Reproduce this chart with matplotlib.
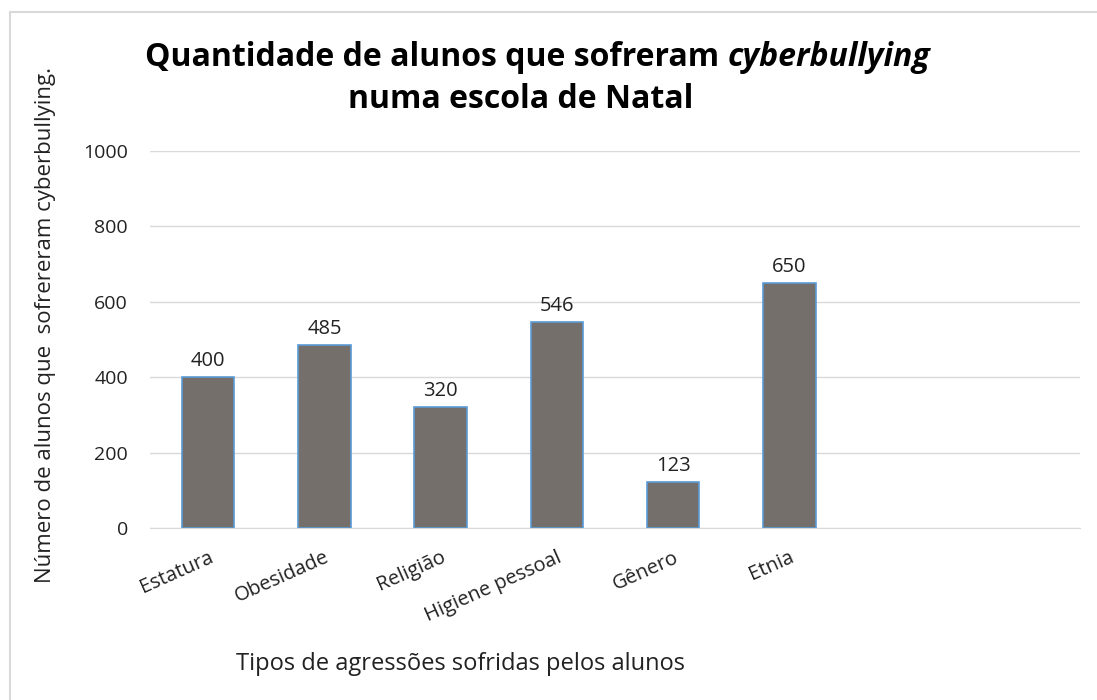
import matplotlib
matplotlib.use("Agg")
from matplotlib import pyplot as plt
from matplotlib.lines import Line2D

plt.rcParams['font.family'] = ['Open Sans', 'DejaVu Sans']

categorias = ["Estatura", "Obesidade", "Religião", "Higiene pessoal", "Gênero", "Etnia", "", ""]
valores = [400, 485, 320, 546, 123, 650, None, None]
yticks = [0, 200, 400, 600, 800, 1000]

titulo1 = "Quantidade de alunos que sofreram "
titulo_it = "cyberbullying"
titulo2 = "numa escola de Natal"
ylabel = "Número de alunos que  sofrereram cyberbullying."
xlabel = "Tipos de agressões sofridas pelos alunos"

fig = plt.figure(figsize=(10.97, 7.0), dpi=100)
W, H = 1097, 700
ax = fig.add_axes([150 / W, 1 - 528 / H, 930 / W, (528 - 151) / H])

pos = list(range(len(categorias)))
xs = [p for p, v in zip(pos, valores) if v is not None]
vs = [v for v in valores if v is not None]
ax.bar(xs, vs, width=0.45, color="#756F6C", edgecolor="#5B9BD5", linewidth=1.2, zorder=3)
for x, v in zip(xs, vs):
    ax.text(x, v + 16, str(v), ha="center", va="bottom", fontsize=14.5, color="#222222")

ax.set_xlim(-0.5, len(categorias) - 0.5)
ax.set_ylim(0, 1000)
ax.set_yticks(yticks)
ax.set_yticklabels([str(t) for t in yticks], fontsize=14)
ax.set_xticks(pos)
ax.set_xticklabels(categorias, rotation=24, ha="right", rotation_mode="anchor", fontsize=14.5)
ax.tick_params(axis="both", length=0, colors="#222222")
ax.tick_params(axis="y", pad=16)
ax.tick_params(axis="x", pad=14)
ax.grid(axis="y", color="#D9D9D9", linewidth=1, zorder=0)
for s in ["top", "right", "left"]:
    ax.spines[s].set_visible(False)
ax.spines["bottom"].set_color("#D9D9D9")

# titulo em duas linhas, com parte em italico
t1 = fig.text(145 / W, 1 - 57 / H, titulo1, fontsize=23, fontweight="bold", ha="left", va="center")
fig.canvas.draw()
bb = t1.get_window_extent()
fig.text(bb.x1 / W, 1 - 57 / H, titulo_it, fontsize=23, fontweight="bold", style="italic",
         ha="left", va="center")
fig.text(521 / W, 1 - 99 / H, titulo2, fontsize=23, fontweight="bold", ha="center", va="center")

fig.text(46 / W, 1 - 325 / H, ylabel, rotation=90, fontsize=16, ha="center", va="center",
         color="#222222")
fig.text(460 / W, 1 - 664 / H, xlabel, fontsize=17, ha="center", va="center", color="#222222")

# moldura do grafico
fig.add_artist(Line2D([10 / W, 1.0], [1 - 12 / H, 1 - 12 / H], color="#D9D9D9", linewidth=1.5))
fig.add_artist(Line2D([10 / W, 10 / W], [1 - 12 / H, 0], color="#D9D9D9", linewidth=1.5))

fig.savefig("out.png", dpi=100)
